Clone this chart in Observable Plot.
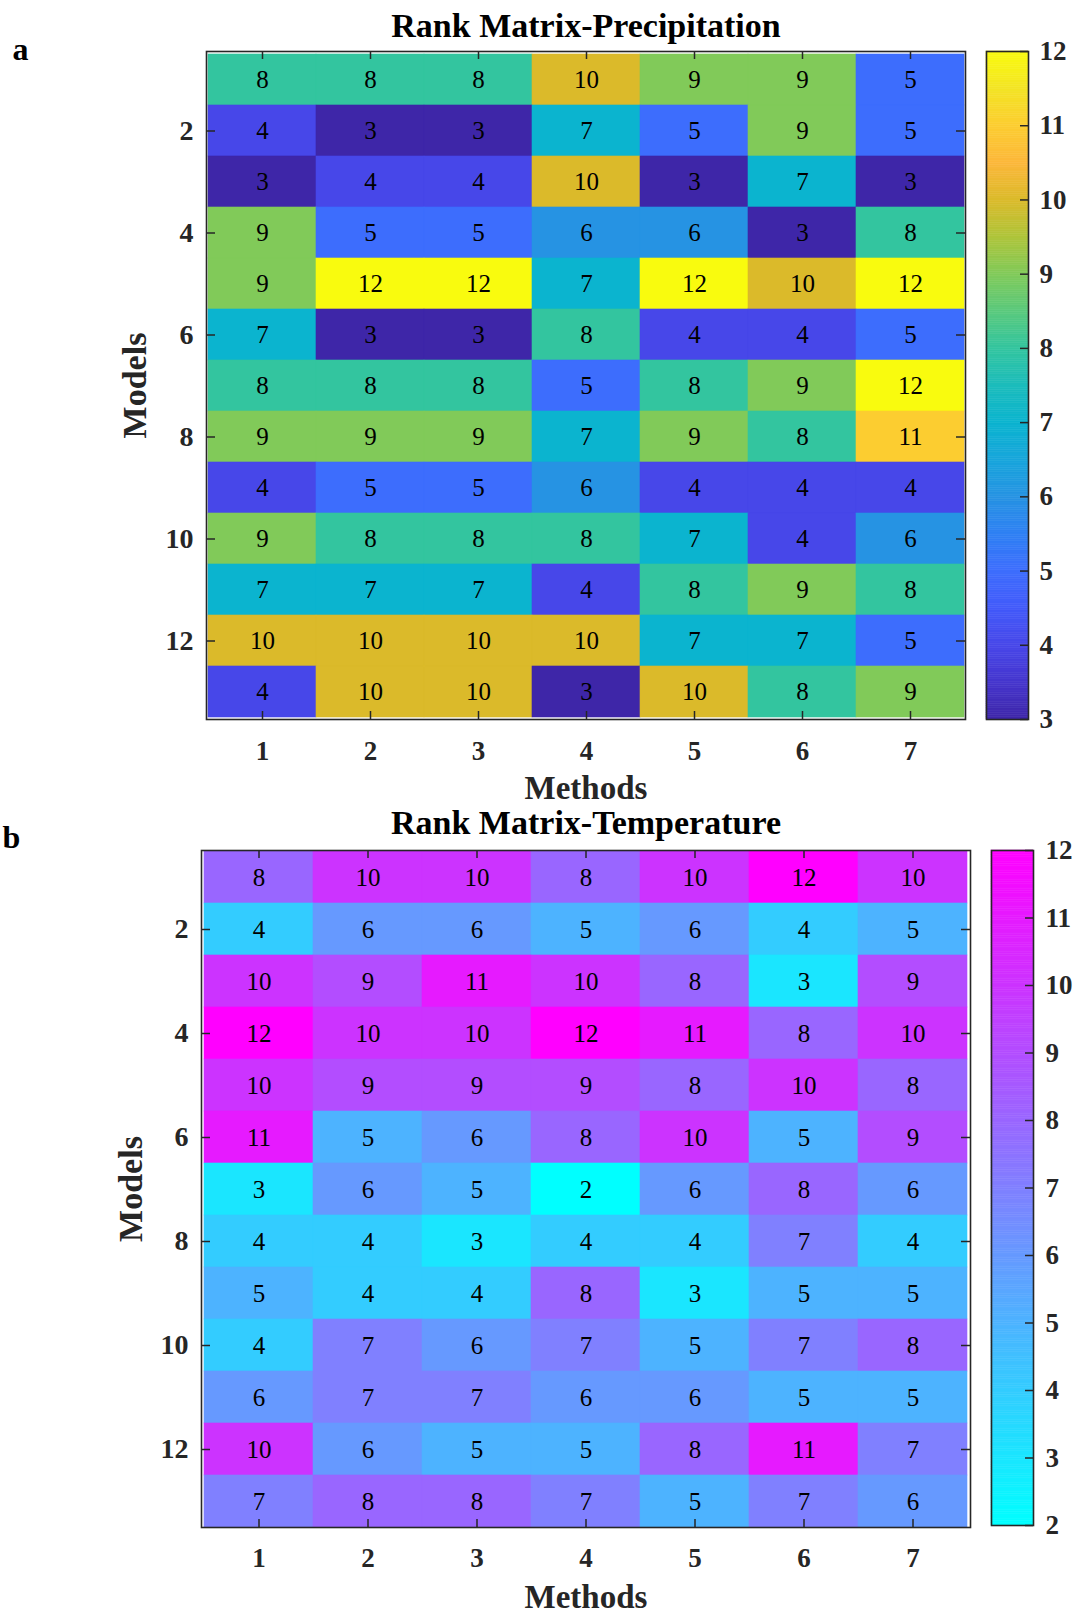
<!DOCTYPE html>
<html>
<head>
<meta charset="utf-8">
<script src="https://cdn.jsdelivr.net/npm/d3@7"></script>
<script src="https://cdn.jsdelivr.net/npm/@observablehq/plot@0.6"></script>
<style>
  html, body { margin: 0; padding: 0; background: #fff; }
  #fig { position: relative; width: 1074px; height: 1614px; background: #fff; }
  #fig svg { position: absolute; overflow: visible; }
</style>
</head>
<body>
<div id="fig"></div>
<script>
// Rank of each model (rows) under each method (columns)
const methods = [1, 2, 3, 4, 5, 6, 7];
const models = [1, 2, 3, 4, 5, 6, 7, 8, 9, 10, 11, 12, 13];
const modelTickLabels = [2, 4, 6, 8, 10, 12];

const precipRanks = [
  [8, 8, 8, 10, 9, 9, 5],
  [4, 3, 3, 7, 5, 9, 5],
  [3, 4, 4, 10, 3, 7, 3],
  [9, 5, 5, 6, 6, 3, 8],
  [9, 12, 12, 7, 12, 10, 12],
  [7, 3, 3, 8, 4, 4, 5],
  [8, 8, 8, 5, 8, 9, 12],
  [9, 9, 9, 7, 9, 8, 11],
  [4, 5, 5, 6, 4, 4, 4],
  [9, 8, 8, 8, 7, 4, 6],
  [7, 7, 7, 4, 8, 9, 8],
  [10, 10, 10, 10, 7, 7, 5],
  [4, 10, 10, 3, 10, 8, 9]
];

const tempRanks = [
  [8, 10, 10, 8, 10, 12, 10],
  [4, 6, 6, 5, 6, 4, 5],
  [10, 9, 11, 10, 8, 3, 9],
  [12, 10, 10, 12, 11, 8, 10],
  [10, 9, 9, 9, 8, 10, 8],
  [11, 5, 6, 8, 10, 5, 9],
  [3, 6, 5, 2, 6, 8, 6],
  [4, 4, 3, 4, 4, 7, 4],
  [5, 4, 4, 8, 3, 5, 5],
  [4, 7, 6, 7, 5, 7, 8],
  [6, 7, 7, 6, 6, 5, 5],
  [10, 6, 5, 5, 8, 11, 7],
  [7, 8, 8, 7, 5, 7, 6]
];

// Colorbar ticks
const precipBarTicks = [3, 4, 5, 6, 7, 8, 9, 10, 11, 12];
const tempBarTicks = [2, 3, 4, 5, 6, 7, 8, 9, 10, 11, 12];

// Parula-like colormap stops over the precipitation rank range
const parulaStops = [3, 3.5, 4, 4.5, 5, 5.5, 6, 6.5, 7, 7.5, 8, 8.5, 9, 9.5, 10, 10.5, 11, 11.5, 12];
const parulaColors = [
  "#3e26a8", "#4535cd", "#4747e9", "#425afa", "#3d6dfd", "#2e80f3", "#2693e3",
  "#17a5db", "#0bb4cf", "#1cbcbb", "#33c59f", "#5ac97c", "#81ca59", "#aec43a",
  "#dbba2a", "#fcb73a", "#fccd30", "#f3e424", "#f9fb0e"
];
// Cool colormap (cyan to magenta) over the temperature rank range
const coolStops = [2, 12];
const coolColors = ["#00ffff", "#ff00ff"];

const SERIF = '"Times New Roman", "Liberation Serif", serif';
const INK = "#262626";

const fig = document.getElementById("fig");

function tidy(matrix) {
  return matrix.flatMap((row, i) => row.map((rank, j) => ({model: models[i], method: methods[j], rank})));
}

function heatmap(o) {
  const cells = tidy(o.ranks);
  const frameW = 1074 - o.marginLeft - o.marginRight;
  const frameH = o.height - o.marginTop - o.marginBottom;
  const tick = {stroke: INK, strokeWidth: 1.5};
  const label = {fontWeight: "bold", fontFamily: SERIF, lineAnchor: "middle"};
  const svg = Plot.plot({
    width: 1074,
    height: o.height,
    marginTop: o.marginTop,
    marginBottom: o.marginBottom,
    marginLeft: o.marginLeft,
    marginRight: o.marginRight,
    style: {background: "transparent", overflow: "visible", fontFamily: SERIF},
    x: {type: "band", domain: methods, padding: 0, axis: null},
    y: {type: "band", domain: models, padding: 0, axis: null},
    color: o.color,
    marks: [
      Plot.cell(cells, {x: "method", y: "model", fill: "rank", stroke: "rank", strokeWidth: 0.6, inset: 0}),
      Plot.text(cells, {x: "method", y: "model", text: "rank", fill: "#000", fontSize: 25, fontFamily: SERIF}),
      // inward ticks on all four sides
      Plot.ruleX(methods, {x: d => d, ...tick, insetBottom: frameH - 8}),
      Plot.ruleX(methods, {x: d => d, ...tick, insetTop: frameH - 8}),
      Plot.ruleY(modelTickLabels, {y: d => d, ...tick, insetRight: frameW - 9}),
      Plot.ruleY(modelTickLabels, {y: d => d, ...tick, insetLeft: frameW - 9}),
      Plot.frame({stroke: INK, strokeWidth: 1.6}),
      // tick labels
      Plot.text(modelTickLabels, {y: d => d, text: d => String(d), frameAnchor: "left", dx: -13, textAnchor: "end",
        fontSize: 28, fill: INK, ...label}),
      Plot.text(methods, {x: d => d, text: d => String(d), frameAnchor: "bottom", dy: o.xTickDy, textAnchor: "middle",
        fontSize: 27, fill: INK, ...label}),
      // axis titles
      Plot.text(["Methods"], {text: d => d, frameAnchor: "bottom", dy: o.methodsDy, textAnchor: "middle",
        fontSize: 33, fill: INK, ...label}),
      Plot.text(["Models"], {text: d => d, frameAnchor: "left", dx: o.modelsDx, rotate: -90, textAnchor: "middle",
        fontSize: 34, fill: INK, ...label}),
      // panel title and tag
      Plot.text([o.title], {text: d => d, frameAnchor: "top", dy: o.titleDy, textAnchor: "middle",
        fontSize: 34, fill: "#000", ...label}),
      Plot.text([o.tag], {text: d => d, frameAnchor: "top-left", dx: o.tagDx, dy: o.tagDy, textAnchor: "start",
        fontSize: 32, fill: "#000", ...label})
    ]
  });
  svg.style.left = "0px";
  svg.style.top = o.top + "px";
  fig.appendChild(svg);
}

function colorbar(o) {
  const [lo, hi] = [o.color.domain[0], o.color.domain[o.color.domain.length - 1]];
  const n = 300;
  const step = (hi - lo) / n;
  const slices = d3.range(n).map(i => ({y1: lo + i * step, y2: lo + (i + 1) * step, v: lo + (i + 0.5) * step}));
  const barW = 42;
  const svg = Plot.plot({
    width: 4 + barW + 50,
    height: o.height,
    marginLeft: 4,
    marginRight: 50,
    marginTop: o.marginTop,
    marginBottom: o.marginBottom,
    style: {background: "transparent", overflow: "visible", fontFamily: SERIF},
    y: {type: "linear", domain: [lo, hi], axis: null},
    color: o.color,
    marks: [
      Plot.rect(slices, {y1: "y1", y2: "y2", fill: "v", stroke: "v", strokeWidth: 0.5}),
      Plot.ruleY(o.ticks, {y: d => d, stroke: INK, strokeWidth: 1.5, insetLeft: barW - 8}),
      Plot.frame({stroke: INK, strokeWidth: 1.6}),
      Plot.text(o.ticks, {y: d => d, text: d => String(d), frameAnchor: "right", dx: o.labelDx, textAnchor: "start",
        lineAnchor: "middle", fontSize: 27, fontWeight: "bold", fill: INK, fontFamily: SERIF})
    ]
  });
  svg.style.left = o.left + "px";
  svg.style.top = o.top + "px";
  fig.appendChild(svg);
}

const precipColor = {type: "linear", domain: parulaStops, range: parulaColors, interpolate: "rgb"};
const tempColor = {type: "linear", domain: coolStops, range: coolColors, interpolate: "rgb"};

heatmap({
  ranks: precipRanks, color: precipColor, top: 0, height: 805,
  marginTop: 51, marginBottom: 86, marginLeft: 206, marginRight: 109,
  title: "Rank Matrix-Precipitation", tag: "a",
  titleDy: -25, tagDx: -194, tagDy: -2, xTickDy: 32, methodsDy: 69, modelsDx: -71
});
colorbar({color: precipColor, ticks: precipBarTicks, left: 982, top: 0, height: 805, marginTop: 51, marginBottom: 86, labelDx: 11});

heatmap({
  ranks: tempRanks, color: tempColor, top: 805, height: 809,
  marginTop: 45, marginBottom: 87, marginLeft: 201, marginRight: 104,
  title: "Rank Matrix-Temperature", tag: "b",
  titleDy: -27, tagDx: -199, tagDy: -13, xTickDy: 31, methodsDy: 70, modelsDx: -70
});
colorbar({color: tempColor, ticks: tempBarTicks, left: 987, top: 805, height: 809, marginTop: 45, marginBottom: 89, labelDx: 12});
</script>
</body>
</html>
